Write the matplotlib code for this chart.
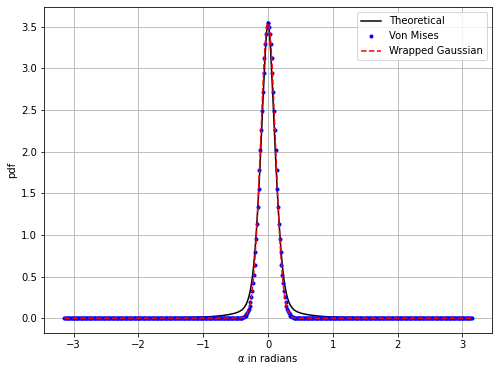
import numpy as np
import matplotlib
matplotlib.use("Agg")
import matplotlib.pyplot as plt

# number of samples on [-pi, pi] used for the simulated curves
n_samples = 500

# right half of the Von Mises pdf (first sample is just right of 0)
von_mises_half = [3.54, 3.50, 3.41, 3.29, 3.13, 2.94, 2.72, 2.49, 2.26, 2.02,
                  1.78, 1.55, 1.33, 1.13, 0.95, 0.79, 0.64, 0.52, 0.42, 0.33,
                  0.26, 0.20, 0.15, 0.115, 0.085, 0.062, 0.045, 0.032, 0.023, 0.016,
                  0.011, 0.008, 0.005, 0.003, 0.002, 0.001]

# right half of the wrapped Gaussian pdf, same sample positions
wrapped_gauss_half = [3.54, 3.50, 3.41, 3.29, 3.13, 2.94, 2.72, 2.49, 2.26, 2.02,
                      1.78, 1.55, 1.33, 1.13, 0.95, 0.79, 0.64, 0.52, 0.41, 0.33,
                      0.25, 0.20, 0.15, 0.11, 0.08, 0.06, 0.043, 0.031, 0.022, 0.015,
                      0.010, 0.007, 0.005, 0.003, 0.002, 0.001]

# theoretical curve, right half
theo_x = [0.0, 0.02, 0.04, 0.06, 0.08, 0.10, 0.12, 0.14, 0.16, 0.18,
          0.20, 0.22, 0.24, 0.26, 0.28, 0.30, 0.32, 0.34, 0.37, 0.40,
          0.45, 0.50, 0.55, 0.60, 0.70, 0.80, 0.90, 1.0, 1.2, 1.5,
          2.0, 2.5, np.pi]
theo_y = [3.56, 3.45, 3.22, 2.90, 2.57, 2.22, 1.88, 1.57, 1.29, 1.04,
          0.82, 0.64, 0.50, 0.39, 0.305, 0.245, 0.198, 0.162, 0.126, 0.100,
          0.077, 0.062, 0.052, 0.044, 0.032, 0.024, 0.018, 0.013, 0.008, 0.005,
          0.003, 0.0025, 0.002]


def full_series(half):
    # symmetric pdf on the sample grid, zero in the tails
    y = np.zeros(n_samples)
    mid = n_samples // 2
    for k, v in enumerate(half):
        y[mid + k] = v
        y[mid - 1 - k] = v
    return y


def main():
    alpha = np.linspace(-np.pi, np.pi, n_samples)
    vm = full_series(von_mises_half)
    wg = full_series(wrapped_gauss_half)

    tx = np.array(theo_x)
    ty = np.array(theo_y)
    tx_full = np.concatenate([-tx[::-1], tx[1:]])
    ty_full = np.concatenate([ty[::-1], ty[1:]])

    dpi = 72
    fig = plt.figure(figsize=(497 / dpi, 371 / dpi), dpi=dpi)
    ax = fig.add_axes([44 / 497, 1 - 333 / 371, 448 / 497, 326 / 371])

    ax.plot(tx_full, ty_full, 'k-', label='Theoretical')
    ax.plot(alpha, vm, 'b.', label='Von Mises')
    ax.plot(alpha, wg, 'r--', label='Wrapped Gaussian')

    ax.set_xlabel('α in radians')
    ax.set_ylabel('pdf')
    ax.grid(True)
    ax.legend(loc='upper right')

    fig.savefig('out.png', dpi=dpi)


if __name__ == "__main__":
    main()
